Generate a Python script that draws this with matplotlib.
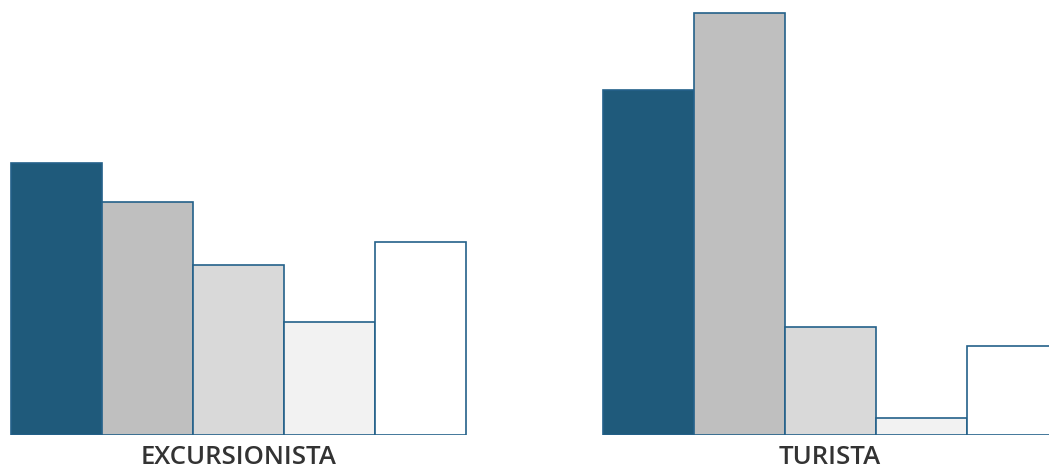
import matplotlib
matplotlib.use("Agg")
import matplotlib.pyplot as plt

groups = ["EXCURSIONISTA", "TURISTA"]
series_colors = ["#1f5a7b", "#bfbfbf", "#d9d9d9", "#f2f2f2", "#ffffff"]
excursionista = [27.7, 23.8, 17.3, 11.5, 19.7]
turista = [35.2, 43.0, 11.0, 1.7, 9.1]
values = [excursionista, turista]

W, H = 1049, 468
fig = plt.figure(figsize=(W / 100, H / 100), dpi=100)
base_px = 33
ax = fig.add_axes([0, base_px / H, 1, 1 - base_px / H])
px_per_unit = 9.81
ax.set_ylim(0, (H - base_px) / px_per_unit)
bw_px = 91
left0 = -0.5 - 11 / bw_px
ax.set_xlim(left0, left0 + W / bw_px)

group_starts = [0, 6.5]
for g, (start, vals) in enumerate(zip(group_starts, values)):
    xs = [start + i for i in range(len(vals))]
    ax.bar(xs, vals, width=1.0, color=series_colors, edgecolor="#24618a",
           linewidth=1.2, clip_on=True)
    ax.text(start + 2, -2.25, groups[g], ha="center", va="center",
            fontsize=18.5, fontweight="semibold", family=["Open Sans", "DejaVu Sans"],
            color="#333333", clip_on=False)

ax.axis("off")
fig.savefig("out.png", dpi=100)
